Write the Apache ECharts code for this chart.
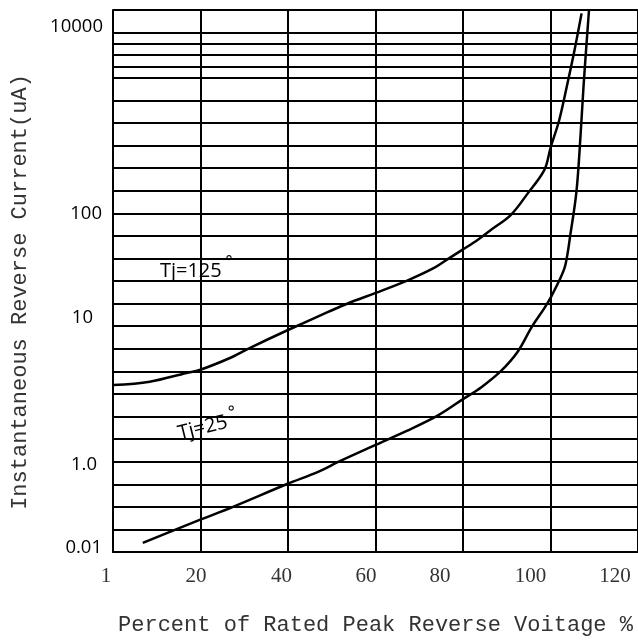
<!DOCTYPE html>
<html>
<head>
<meta charset="utf-8">
<script src="https://cdn.jsdelivr.net/npm/echarts@6/dist/echarts.min.js"></script>
<style>
html,body{margin:0;padding:0;background:#fff;}
#chart{width:638px;height:644px;}
</style>
</head>
<body>
<div id="chart"></div>
<script>
// ---- data (x: percent of rated peak reverse voltage; y: position on the chart's current grid, in grid divisions) ----
const xTickValues = [0, 20, 40, 60, 80, 100, 120];
const xTickLabels = ['1', '20', '40', '60', '80', '100', '120'];
const yTickValues = [0, 4, 10, 15, 23];
const yTickLabels = ['0.01', '1.0', '10', '100', '10000'];
const yExtraLines = [21.5, 22.5];

const tj125X = [0, 8.4, 16.8, 19.8, 26.6, 31.1, 40.0, 49.3, 54.6, 59.9, 67.5, 73.6, 76.6, 80.0, 83.4, 86.5, 90.9, 94.8, 98.6, 100, 102.0, 103.9, 105.5, 107.1];
const tj125Y = [7.39, 7.54, 7.93, 8.06, 8.58, 9.02, 9.83, 10.64, 11.08, 11.46, 12.04, 12.60, 12.98, 13.40, 13.83, 14.28, 14.92, 15.88, 16.92, 17.89, 19.13, 20.77, 22.23, 23.85];
const tj25X = [6.8, 19.8, 27.3, 39.8, 47.0, 51.6, 60, 67.0, 74.3, 80.0, 84.2, 88.7, 92.5, 95.7, 98.6, 100.1, 102.05, 103.4, 104.6, 105.9, 106.7, 107.6, 108.8];
const tj25Y = [0.40, 1.42, 1.99, 3.01, 3.56, 4.00, 4.74, 5.35, 6.05, 6.77, 7.30, 8.02, 8.87, 9.96, 10.80, 11.29, 12.04, 12.71, 14.13, 15.90, 17.93, 20.77, 24.0];

const labels = [
  { name: 'Tj=125', x: 19.1, y: 12.45, rotate: 0 },
  { name: 'Tj=25', x: 21.8, y: 5.55, rotate: 14 }
];

// ---- styling ----
const xLabelShift = { 0: 14, 20: 9, 40: 13, 60: 19, 80: 46, 100: 40, 120: 46 }; // px of right padding
const yLabelPad = {
  0: [0, 1, 9, 0],
  4: [7, 6, 0, 0],
  10: [0, 10, 17, 0],
  15: [0, 1, 0, 0],
  23: [0, 0, 12, 0]
};

const xRich = {};
xTickValues.forEach(v => {
  xRich['x' + v] = { fontFamily: 'Liberation Serif', fontSize: 21, color: '#333', padding: [0, xLabelShift[v], 0, 0] };
});
const yRich = {};
yTickValues.forEach(v => {
  yRich['y' + v] = { fontFamily: 'Open Sans', fontSize: 18.5, color: '#000', padding: yLabelPad[v] };
});

const chart = echarts.init(document.getElementById('chart'));
const option = {
  animation: false,
  backgroundColor: '#fff',
  grid: { left: 113, right: -3, top: 10, bottom: 92, containLabel: false },
  xAxis: {
    type: 'value', min: 0, max: 120, interval: 20,
    name: 'Percent of Rated Peak Reverse Voitage %',
    nameLocation: 'middle', nameGap: 62,
    nameTextStyle: { fontFamily: 'Liberation Mono', fontSize: 22, color: '#333' },
    axisLine: { show: true, lineStyle: { color: '#000', width: 2 } },
    axisTick: { show: false },
    splitLine: { show: true, lineStyle: { color: '#000', width: 2 } },
    axisLabel: {
      margin: 14,
      showMinLabel: true, showMaxLabel: true,
      formatter: v => {
        const i = xTickValues.indexOf(v);
        return i < 0 ? '' : '{x' + v + '|' + xTickLabels[i] + '}';
      },
      rich: xRich
    }
  },
  yAxis: {
    type: 'value', min: 0, max: 24, interval: 1,
    name: 'Instantaneous Reverse Current(uA)',
    nameLocation: 'middle', nameGap: 82, nameRotate: 90,
    nameTextStyle: { fontFamily: 'Liberation Mono', fontSize: 22, color: '#333', padding: [0, 22, 0, 0] },
    axisLine: { show: true, lineStyle: { color: '#000', width: 2 } },
    axisTick: { show: false },
    splitLine: { show: true, lineStyle: { color: '#000', width: 2 } },
    axisLabel: {
      margin: 10,
      formatter: v => {
        const i = yTickValues.indexOf(v);
        return i < 0 ? '' : '{y' + v + '|' + yTickLabels[i] + '}';
      },
      rich: yRich
    }
  },
  series: [
    {
      name: 'Tj=125', type: 'line', showSymbol: false, smooth: 0.35,
      lineStyle: { color: '#000', width: 2.5 },
      data: tj125X.map((x, i) => [x, tj125Y[i]]),
      markLine: {
        silent: true, symbol: 'none', label: { show: false },
        lineStyle: { color: '#000', width: 2, type: 'solid' },
        data: yExtraLines.map(v => ({ yAxis: v }))
      }
    },
    {
      name: 'Tj=25', type: 'line', showSymbol: false, smooth: 0.35,
      lineStyle: { color: '#000', width: 2.5 },
      data: tj25X.map((x, i) => [x, tj25Y[i]])
    }
  ]
};
chart.setOption(option);

const graphics = labels.map(l => {
  const p = chart.convertToPixel({ gridIndex: 0 }, [l.x, l.y]);
  return {
    type: 'text', x: p[0], y: p[1], rotation: l.rotate * Math.PI / 180,
    style: {
      text: '{t|' + l.name + '}{d|°}',
      align: 'center', verticalAlign: 'middle',
      rich: {
        t: { fontFamily: 'Open Sans', fontSize: 20, fill: '#000' },
        d: { fontFamily: 'DejaVu Sans', fontSize: 17, fill: '#000', padding: [0, 0, 14, 3] }
      }
    },
    z: 100
  };
});
chart.setOption({ graphic: graphics });
</script>
</body>
</html>
